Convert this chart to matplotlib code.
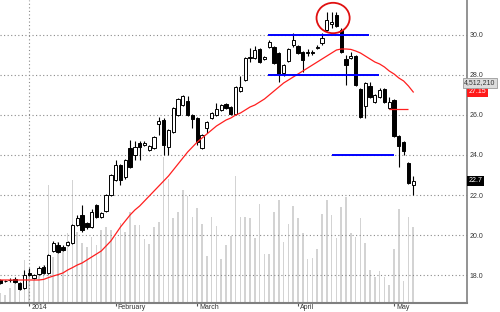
import numpy as np
import matplotlib
matplotlib.use("Agg")
import matplotlib.pyplot as plt
import matplotlib.transforms as mtransforms
from matplotlib.patches import Ellipse

plt.rcParams['font.family'] = ['Liberation Sans', 'DejaVu Sans']

# ---------------- data ----------------
opens = [17.75, 17.70, 17.74, 17.80, 17.60, 17.35, 18.10, 17.85, 18.05, 18.40,
         18.10, 19.20, 19.50, 19.40, 19.50, 19.60, 20.50, 21.00, 20.60, 20.40,
         21.50, 20.90, 21.20, 22.00, 22.75, 23.50, 22.90, 24.35, 24.00, 24.60,
         24.50, 24.25, 24.35, 25.55, 25.75, 24.40, 25.15, 26.00, 26.50, 26.70,
         26.00, 25.85, 24.35, 25.35, 25.85, 26.00, 26.25, 26.55, 26.40, 26.05,
         27.20, 27.75, 28.85, 28.85, 29.30, 28.80, 29.40, 29.40, 29.10, 28.10,
         28.70, 29.50, 29.45, 29.15, 29.10, 29.15, 29.35, 29.60, 30.25, 30.55,
         31.00, 30.25, 28.80, 28.85, 28.95, 27.30, 26.45, 27.45, 26.65, 26.90,
         27.30, 26.35, 26.75, 24.95, 24.65, 23.60, 22.50]
closes = [17.60, 17.68, 17.76, 17.65, 17.30, 17.99, 18.00, 18.00, 18.35, 18.10,
          19.00, 19.60, 19.15, 19.25, 19.65, 20.50, 20.85, 20.25, 20.40, 21.15,
          20.90, 21.10, 22.00, 23.00, 23.50, 22.75, 23.75, 23.40, 24.40, 24.40,
          24.60, 24.45, 24.90, 25.70, 24.50, 25.25, 26.35, 26.80, 26.95, 26.00,
          25.80, 24.65, 25.00, 25.65, 26.10, 26.30, 26.50, 26.35, 26.05, 27.40,
          27.40, 28.85, 28.90, 29.25, 28.65, 28.90, 29.65, 28.60, 28.05, 28.50,
          29.30, 29.75, 29.10, 28.75, 29.15, 29.10, 29.40, 29.85, 30.75, 30.65,
          30.45, 29.15, 28.50, 28.95, 27.50, 25.90, 27.60, 26.90, 27.00, 27.25,
          26.65, 26.65, 24.95, 24.45, 24.20, 22.60, 22.70]
highs = [17.80, 17.75, 17.85, 17.90, 17.65, 18.25, 18.35, 18.05, 18.45, 18.50,
         19.05, 19.70, 19.65, 19.50, 19.70, 20.55, 21.00, 21.50, 20.65, 21.30,
         21.55, 21.15, 22.05, 23.05, 23.75, 23.55, 23.80, 24.75, 24.70, 24.70,
         24.70, 24.50, 24.95, 25.90, 25.85, 25.30, 26.40, 26.85, 27.00, 26.95,
         26.05, 25.90, 25.05, 25.70, 26.15, 26.60, 26.55, 26.60, 26.45, 27.45,
         27.95, 28.90, 29.35, 29.45, 29.35, 28.95, 29.75, 29.45, 29.15, 28.55,
         29.35, 30.10, 29.50, 29.20, 29.30, 29.25, 29.50, 30.10, 31.15, 31.15,
         31.15, 30.35, 29.00, 29.15, 29.00, 27.35, 27.65, 27.65, 27.05, 27.35,
         27.35, 26.90, 26.80, 25.00, 24.70, 23.65, 22.95]
lows = [17.55, 17.65, 17.65, 17.60, 17.25, 17.30, 17.95, 17.80, 18.00, 18.05,
        18.05, 19.15, 19.10, 19.20, 19.45, 19.55, 20.45, 20.15, 20.30, 20.35,
        20.85, 20.85, 21.15, 21.95, 22.70, 22.50, 22.80, 23.35, 23.75, 23.75,
        24.45, 24.20, 24.30, 25.00, 24.00, 24.00, 25.10, 25.95, 26.45, 25.95,
        25.35, 24.50, 24.30, 25.10, 25.80, 25.95, 26.20, 26.30, 26.00, 26.00,
        27.15, 27.70, 28.65, 28.80, 28.60, 28.75, 29.35, 28.55, 27.65, 27.95,
        28.65, 29.40, 29.05, 28.15, 28.95, 29.00, 29.30, 29.50, 30.20, 30.35,
        30.40, 29.10, 27.50, 28.80, 27.45, 25.85, 25.85, 26.85, 26.60, 26.85,
        26.60, 26.30, 24.90, 23.40, 24.00, 22.55, 22.00]
# volume, millions of shares
volume = [0.59, 0.48, 0.89, 1.19, 0.89, 2.55, 1.96, 1.37, 1.96, 2.26,
          7.01, 2.73, 3.62, 3.33, 4.16, 7.31, 4.22, 3.56, 3.33, 3.92,
          3.45, 4.34, 4.51, 4.34, 3.92, 4.75, 4.22, 5.41, 4.63, 4.63,
          3.80, 3.50, 4.51, 4.81, 8.67, 7.37, 5.05, 5.41, 6.71, 6.36,
          5.11, 5.64, 4.69, 2.79, 5.11, 4.57, 2.61, 3.45, 3.98, 7.54,
          5.11, 5.11, 5.05, 3.86, 5.88, 2.91, 2.91, 5.41, 6.12, 3.62,
          4.69, 5.76, 5.05, 4.16, 2.61, 2.67, 3.21, 5.29, 6.12, 5.23,
          3.86, 5.70, 6.30, 4.16, 3.92, 5.05, 3.56, 1.96, 1.54, 1.90,
          1.54, 1.07, 3.21, 5.58, 1.31, 5.11, 4.51221]
# moving average overlay (red)
ma = [17.75, 17.75, 17.75, 17.75, 17.75, 17.75, 17.75, 17.75, 17.75, 17.78,
      17.87, 17.95, 18.02, 18.10, 18.25, 18.37, 18.50, 18.60, 18.75, 18.90,
      19.05, 19.20, 19.45, 19.70, 20.05, 20.40, 20.70, 21.00, 21.25, 21.45,
      21.70, 21.95, 22.20, 22.45, 22.70, 22.95, 23.25, 23.55, 23.85, 24.15,
      24.40, 24.65, 24.85, 25.05, 25.25, 25.45, 25.60, 25.75, 25.85, 26.00,
      26.10, 26.25, 26.40, 26.50, 26.65, 26.80, 27.00, 27.20, 27.40, 27.60,
      27.75, 27.90, 28.05, 28.20, 28.35, 28.50, 28.65, 28.80, 28.95, 29.10,
      29.25, 29.30, 29.30, 29.28, 29.20, 29.10, 28.95, 28.80, 28.65, 28.55,
      28.40, 28.20, 28.05, 27.85, 27.70, 27.45, 27.15]

month_idx = [6, 24, 41, 62, 82]
month_labels = ['2014', 'February', 'March', 'April', 'May']
year_idx = 6
price_ticks = [18.0, 20.0, 22.0, 24.0, 26.0, 28.0, 30.0]

# blue support / resistance lines: level, start bar, end bar
blue_levels = [30.0, 28.0, 24.0]
blue_starts = [55.7, 55.7, 69.0]
blue_ends = [76.8, 78.9, 82.0]
# short red mark
red_mark_level = 26.3
red_mark_span = (80.9, 84.9)
# circled top
circle_center = (69.3, 30.85)
circle_size = (6.9, 1.52)

# ---------------- figure ----------------
fig = plt.figure(figsize=(5.0, 3.12), dpi=100)
fig.patch.set_facecolor('white')
ax_vol = fig.add_axes([0.0, 9 / 312, 467 / 500, 303 / 312])
ax = ax_vol.twinx()

x = np.arange(len(closes))

# volume bars (background)
ax_vol.bar(x, volume, width=0.33, color='#d3d3d3', linewidth=0, zorder=1)
ax_vol.set_ylim(0, 18.0)
ax_vol.set_yticks([])
ax_vol.set_xlim(-0.1, 97.2)

for s in ['top', 'left', 'right']:
    ax_vol.spines[s].set_visible(False)
ax_vol.spines['bottom'].set_color('#808080')
ax_vol.spines['bottom'].set_linewidth(1.5)

for s in ['top', 'left', 'bottom']:
    ax.spines[s].set_visible(False)
ax.spines['right'].set_color('#808080')
ax.spines['right'].set_linewidth(1.2)

# price axis
ax.set_ylim(16.6, 31.75)
ax.set_yticks(price_ticks)
ax.set_yticklabels([f"{v:.1f}" for v in price_ticks])
ax.tick_params(axis='y', length=0, pad=2, labelsize=5, labelcolor='#333333')
ax.yaxis.grid(True, linestyle=(0, (1, 2.2)), color='#8a8a8a', linewidth=0.8)
ax.set_axisbelow(True)
ax.axvline(year_idx, linestyle=(0, (1, 2.2)), color='#8a8a8a', linewidth=0.8, zorder=0.5)

# x ticks (months)
ax_vol.set_xticks(month_idx)
ax_vol.set_xticklabels(month_labels)
ax_vol.tick_params(axis='x', direction='out', length=2.2, width=0.8, color='#555555',
                   pad=-1.6, labelsize=5, labelcolor='#333333')
offset = mtransforms.ScaledTranslation(1.5 / 72, 0, fig.dpi_scale_trans)
for lbl in ax_vol.get_xticklabels():
    lbl.set_ha('left')
    lbl.set_transform(lbl.get_transform() + offset)

# candles
o = np.array(opens); c = np.array(closes)
h = np.array(highs); l = np.array(lows)
up = c >= o
ax.vlines(x, l, h, color='black', linewidth=0.8, zorder=3)
body_bottom = np.minimum(o, c)
body_h = np.maximum(np.abs(c - o), 0.03)
ax.bar(x[up], body_h[up], bottom=body_bottom[up], width=0.68,
       facecolor='white', edgecolor='black', linewidth=0.7, zorder=4)
ax.bar(x[~up], body_h[~up], bottom=body_bottom[~up], width=0.68,
       facecolor='black', edgecolor='black', linewidth=0.7, zorder=4)

# moving average
ax.plot(x, ma, color='#ff1f1f', linewidth=0.9, zorder=5)

# annotations
ax.hlines(blue_levels, blue_starts, blue_ends, color='#0000ff', linewidth=1.4, zorder=6)
ax.hlines(red_mark_level, red_mark_span[0], red_mark_span[1], color='#ff1f1f',
          linewidth=0.9, zorder=6)
ax.add_patch(Ellipse(circle_center, circle_size[0], circle_size[1], fill=False,
                     edgecolor='#e01010', linewidth=1.3, zorder=7))

# right-side value tags
trans = mtransforms.blended_transform_factory(ax.transAxes, ax.transData)
ax.text(1.004, ma[-1], f"{ma[-1]:.2f}", transform=trans, fontsize=5, color='white',
        va='center', ha='left', clip_on=False,
        bbox=dict(boxstyle='square,pad=0.2', fc='#ff1a1a', ec='none'))
ax.text(1.004, closes[-1], f"{closes[-1]:.1f}", transform=trans, fontsize=5, color='white',
        va='center', ha='left', clip_on=False,
        bbox=dict(boxstyle='square,pad=0.2', fc='black', ec='none'))
ax.text(0.994, 0.726, f"{int(round(volume[-1] * 1e6)):,}", transform=ax.transAxes,
        fontsize=5, color='#333333', va='center', ha='left', clip_on=False,
        bbox=dict(boxstyle='square,pad=0.2', fc='#dcdcdc', ec='#9a9a9a', lw=0.6))

fig.savefig('out.png', dpi=100, facecolor='white')
